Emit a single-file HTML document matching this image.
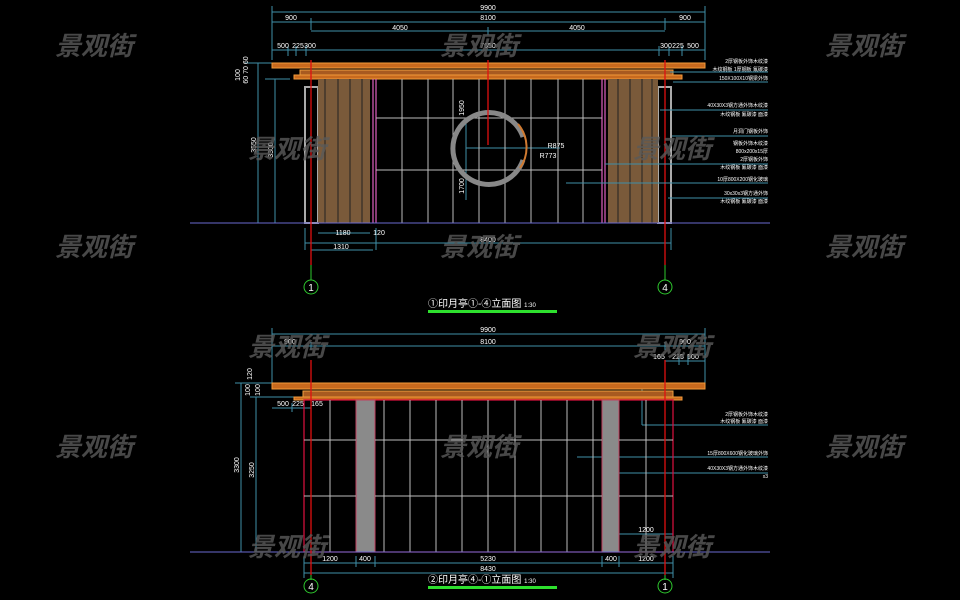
<!DOCTYPE html>
<html><head><meta charset="utf-8"><style>
html,body{margin:0;padding:0;background:#000;width:960px;height:600px;overflow:hidden}
svg{display:block}
.d{stroke:#3f8fa8;stroke-width:1;fill:none}
.t{fill:#fff;font-family:"Liberation Sans",sans-serif;font-size:7px}
.a{fill:#fff;font-family:"Liberation Sans","Noto Sans CJK SC",sans-serif;font-size:5px}
.w{fill:#5a5a5a;font-family:"Noto Sans CJK SC","WenQuanYi Zen Hei",sans-serif;font-size:26px;font-style:italic;font-weight:bold;opacity:.8}
.g{stroke:#bdbdbd;stroke-width:1}
.r{stroke:#e01010;stroke-width:1.3}
</style></head><body>
<svg width="960" height="600" viewBox="0 0 960 600" xmlns="http://www.w3.org/2000/svg">
<!-- ========== TOP ELEVATION ========== -->
<!-- dims -->
<g class="d">
<line x1="272" y1="12" x2="705" y2="12"/><line x1="272" y1="6" x2="272" y2="60"/><line x1="705" y1="6" x2="705" y2="60"/>
<line x1="272" y1="22" x2="705" y2="22"/><line x1="311" y1="18" x2="311" y2="30"/><line x1="665" y1="18" x2="665" y2="30"/>
<line x1="311" y1="31" x2="665" y2="31"/><line x1="488" y1="27" x2="488" y2="35"/>
<line x1="272" y1="50" x2="705" y2="50"/><line x1="288" y1="46" x2="288" y2="56"/><line x1="296" y1="46" x2="296" y2="56"/><line x1="306" y1="46" x2="306" y2="56"/><line x1="659" y1="46" x2="659" y2="56"/><line x1="669" y1="46" x2="669" y2="56"/><line x1="682" y1="46" x2="682" y2="56"/>
<line x1="258" y1="63" x2="258" y2="223"/><line x1="275" y1="79" x2="275" y2="223"/><line x1="245" y1="63" x2="290" y2="63"/><line x1="265" y1="79" x2="290" y2="79"/>
<line x1="305" y1="228" x2="305" y2="250"/><line x1="376" y1="228" x2="376" y2="250"/><line x1="671" y1="228" x2="671" y2="250"/>
<line x1="318" y1="233" x2="370" y2="233"/><line x1="305" y1="243" x2="671" y2="243"/><line x1="311" y1="250" x2="373" y2="250"/>
<line x1="466" y1="118" x2="466" y2="200"/><line x1="466" y1="148" x2="560" y2="148"/>
</g>
<g class="t" text-anchor="middle">
<text x="488" y="10">9900</text><text x="291" y="20">900</text><text x="488" y="20">8100</text><text x="685" y="20">900</text>
<text x="400" y="30">4050</text><text x="577" y="30">4050</text>
<text x="283" y="48">500</text><text x="298" y="48">225</text><text x="310" y="48">300</text><text x="488" y="48">7650</text>
<text x="666" y="48">300</text><text x="678" y="48">225</text><text x="693" y="48">500</text>
<text x="343" y="235">1180</text><text x="379" y="235">120</text><text x="341" y="249">1310</text><text x="488" y="242">8400</text>
<text x="556" y="148">R875</text><text x="548" y="158">R773</text>
</g>
<g class="t" text-anchor="middle">
<text transform="translate(256,145) rotate(-90)">3550</text><text transform="translate(273,150) rotate(-90)">3300</text>
<text transform="translate(240,75) rotate(-90)">100</text><text transform="translate(248,70) rotate(-90)">60 70 60</text>
<text transform="translate(464,108) rotate(-90)">1950</text><text transform="translate(464,186) rotate(-90)">1700</text>
</g>
<!-- roof -->
<rect x="272" y="63" width="433" height="5" fill="#c86a1e" stroke="#f29a3a"/>
<rect x="300" y="70" width="373" height="5" fill="#a85a20" stroke="#f0a040"/>
<rect x="294" y="75" width="388" height="4" fill="#c86a1e" stroke="#f29a3a"/>
<!-- columns -->
<rect x="305" y="87" width="13" height="136" fill="none" stroke="#aaa" stroke-width="2"/>
<rect x="658" y="87" width="13" height="136" fill="none" stroke="#aaa" stroke-width="2"/>
<rect x="318" y="79" width="52" height="144" fill="#7a5a3a"/>
<rect x="608" y="79" width="50" height="144" fill="#7a5a3a"/>
<g stroke="#222" stroke-width="1">
<line x1="325" y1="79" x2="325" y2="223"/><line x1="338" y1="79" x2="338" y2="223"/><line x1="350" y1="79" x2="350" y2="223"/><line x1="362" y1="79" x2="362" y2="223"/>
<line x1="618" y1="79" x2="618" y2="223"/><line x1="630" y1="79" x2="630" y2="223"/><line x1="642" y1="79" x2="642" y2="223"/><line x1="652" y1="79" x2="652" y2="223"/>
</g>
<g stroke="#e060c0" stroke-width="1.2"><line x1="373" y1="79" x2="373" y2="223"/><line x1="376" y1="79" x2="376" y2="223"/><line x1="602" y1="79" x2="602" y2="223"/><line x1="605" y1="79" x2="605" y2="223"/></g>
<!-- grid -->
<g class="g" stroke-width=".8">
<line x1="402" y1="79" x2="402" y2="223"/><line x1="428" y1="79" x2="428" y2="223"/><line x1="453" y1="79" x2="453" y2="223"/><line x1="479" y1="79" x2="479" y2="223"/><line x1="505" y1="79" x2="505" y2="223"/><line x1="531" y1="79" x2="531" y2="223"/><line x1="558" y1="79" x2="558" y2="223"/><line x1="583" y1="79" x2="583" y2="223"/>
<line x1="376" y1="118" x2="602" y2="118"/><line x1="376" y1="170" x2="602" y2="170"/>
</g>
<!-- moon ring -->
<path d="M 523 137 A 36 36 0 1 0 523 160" fill="none" stroke="#888" stroke-width="5"/>
<path d="M 518 124 A 36 36 0 0 1 520 168" fill="none" stroke="#d07a30" stroke-width="2"/>
<!-- ground -->
<line x1="190" y1="223" x2="770" y2="223" stroke="#6a6ad0" stroke-width="1"/>
<!-- axes -->
<line class="r" x1="311" y1="60" x2="311" y2="265"/><line class="r" x1="665" y1="60" x2="665" y2="265"/>
<line class="r" x1="488" y1="60" x2="488" y2="145"/>
<g stroke="#2ec82e" fill="none"><line x1="311" y1="265" x2="311" y2="280"/><line x1="665" y1="265" x2="665" y2="280"/><circle cx="311" cy="287" r="7"/><circle cx="665" cy="287" r="7"/></g>
<g fill="#fff" font-family="Liberation Sans" font-size="10" text-anchor="middle"><text x="311" y="291">1</text><text x="665" y="291">4</text></g>
<text x="428" y="307" fill="#fff" font-family="'Liberation Sans','Noto Sans CJK SC',sans-serif" font-size="10">①印月亭①-④立面图 <tspan font-size="6">1:30</tspan></text>
<rect x="428" y="310" width="129" height="3" fill="#2ee02e"/>
<!-- annotations top -->
<g stroke="#3f8fa8"><line x1="670" y1="72" x2="768" y2="72"/><line x1="673" y1="82" x2="768" y2="82"/><line x1="660" y1="110" x2="768" y2="110"/><line x1="672" y1="136" x2="768" y2="136"/><line x1="605" y1="164" x2="768" y2="164"/><line x1="566" y1="183" x2="768" y2="183"/><line x1="668" y1="198" x2="768" y2="198"/></g>
<g class="a" text-anchor="end">
<text x="768" y="63">2厚钢板外饰木纹漆</text><text x="768" y="71">木纹钢板 1厚钢板 氟碳漆</text><text x="768" y="80">150X100X10钢梁外饰</text>
<text x="768" y="107">40X30X3钢方通外饰木纹漆</text><text x="768" y="116">木纹钢板 氟碳漆 面漆</text>
<text x="768" y="133">月洞门钢板外饰</text><text x="768" y="145">钢板外饰木纹漆</text><text x="768" y="153">800x200x15厚</text><text x="768" y="161">2厚钢板外饰</text><text x="768" y="169">木纹钢板 氟碳漆 面漆</text><text x="768" y="181">10厚800X200钢化玻璃</text>
<text x="768" y="195">30x30x3钢方通外饰</text><text x="768" y="203">木纹钢板 氟碳漆 面漆</text>
</g>
<!-- ========== BOTTOM ELEVATION ========== -->
<g class="d">
<line x1="272" y1="334" x2="705" y2="334"/><line x1="272" y1="328" x2="272" y2="386"/><line x1="705" y1="328" x2="705" y2="386"/>
<line x1="272" y1="346" x2="705" y2="346"/><line x1="311" y1="342" x2="311" y2="350"/><line x1="665" y1="342" x2="665" y2="350"/>
<line x1="665" y1="361" x2="705" y2="361"/><line x1="679" y1="356" x2="679" y2="365"/><line x1="688" y1="356" x2="688" y2="365"/>
<line x1="272" y1="408" x2="311" y2="408"/><line x1="292" y1="403" x2="292" y2="412"/><line x1="304" y1="403" x2="304" y2="412"/>
<line x1="241" y1="383" x2="241" y2="552"/><line x1="256" y1="397" x2="256" y2="552"/><line x1="235" y1="383" x2="275" y2="383"/><line x1="250" y1="397" x2="300" y2="397"/><line x1="235" y1="552" x2="300" y2="552"/>
<line x1="304" y1="563" x2="673" y2="563"/><line x1="304" y1="573" x2="673" y2="573"/>
<line x1="304" y1="556" x2="304" y2="578"/><line x1="356" y1="556" x2="356" y2="567"/><line x1="375" y1="556" x2="375" y2="567"/><line x1="602" y1="556" x2="602" y2="567"/><line x1="619" y1="556" x2="619" y2="567"/><line x1="673" y1="556" x2="673" y2="578"/>
<line x1="619" y1="534" x2="673" y2="534"/><line x1="619" y1="530" x2="619" y2="552"/>
<line x1="642" y1="386" x2="642" y2="425"/><line x1="642" y1="425" x2="768" y2="425"/><line x1="577" y1="457" x2="768" y2="457"/><line x1="604" y1="473" x2="768" y2="473"/>
</g>
<g class="t" text-anchor="middle">
<text x="488" y="332">9900</text><text x="290" y="344">900</text><text x="488" y="344">8100</text><text x="685" y="344">900</text>
<text x="659" y="359">165</text><text x="678" y="359">225</text><text x="693" y="359">500</text>
<text x="283" y="406">500</text><text x="298" y="406">225</text><text x="317" y="406">165</text>
<text x="330" y="561">1200</text><text x="365" y="561">400</text><text x="488" y="561">5230</text><text x="611" y="561">400</text><text x="646" y="561">1200</text><text x="646" y="532">1200</text><text x="488" y="571">8430</text>
<text transform="translate(239,465) rotate(-90)">3300</text><text transform="translate(254,470) rotate(-90)">3250</text>
<text transform="translate(252,374) rotate(-90)">120</text><text transform="translate(250,390) rotate(-90)">100</text><text transform="translate(260,390) rotate(-90)">100</text>
</g>
<rect x="272" y="383" width="433" height="6" fill="#c86a1e" stroke="#f29a3a"/>
<rect x="303" y="391" width="370" height="6" fill="#a85a20" stroke="#f0a040"/>
<rect x="294" y="397" width="388" height="3" fill="#c86a1e" stroke="#f29a3a"/>
<rect x="304" y="400" width="369" height="152" fill="none" stroke="#e01040" stroke-width="1.2"/>
<rect x="356" y="400" width="19" height="152" fill="#8a8a8a" stroke="#c04060"/>
<rect x="602" y="400" width="17" height="152" fill="#8a8a8a" stroke="#c04060"/>
<g class="g" stroke-width=".8">
<line x1="330" y1="400" x2="330" y2="552"/><line x1="384" y1="400" x2="384" y2="552"/><line x1="410" y1="400" x2="410" y2="552"/><line x1="436" y1="400" x2="436" y2="552"/><line x1="462" y1="400" x2="462" y2="552"/><line x1="488" y1="400" x2="488" y2="552"/><line x1="515" y1="400" x2="515" y2="552"/><line x1="541" y1="400" x2="541" y2="552"/><line x1="567" y1="400" x2="567" y2="552"/><line x1="593" y1="400" x2="593" y2="552"/><line x1="646" y1="400" x2="646" y2="552"/>
<line x1="304" y1="440" x2="356" y2="440"/><line x1="375" y1="440" x2="602" y2="440"/><line x1="619" y1="440" x2="673" y2="440"/>
<line x1="304" y1="496" x2="356" y2="496"/><line x1="375" y1="496" x2="602" y2="496"/><line x1="619" y1="496" x2="673" y2="496"/>
</g>
<line x1="190" y1="552" x2="770" y2="552" stroke="#6a6ad0"/>
<line class="r" x1="311" y1="360" x2="311" y2="575"/><line class="r" x1="665" y1="360" x2="665" y2="575"/>
<g stroke="#2ec82e" fill="none"><line x1="311" y1="575" x2="311" y2="580"/><line x1="665" y1="575" x2="665" y2="580"/><circle cx="311" cy="586" r="7"/><circle cx="665" cy="586" r="7"/></g>
<g fill="#fff" font-family="Liberation Sans" font-size="10" text-anchor="middle"><text x="311" y="590">4</text><text x="665" y="590">1</text></g>
<text x="428" y="583" fill="#fff" font-family="'Liberation Sans','Noto Sans CJK SC',sans-serif" font-size="10">②印月亭④-①立面图 <tspan font-size="6">1:30</tspan></text>
<rect x="428" y="586" width="129" height="3" fill="#2ee02e"/>
<g class="a" text-anchor="end">
<text x="768" y="416">2厚钢板外饰木纹漆</text><text x="768" y="423">木纹钢板 氟碳漆 面漆</text>
<text x="768" y="455">15厚800X600钢化玻璃外饰</text><text x="768" y="470">40X30X3钢方通外饰木纹漆</text><text x="768" y="478">x3</text>
</g>
<!-- watermarks -->
<g class="w">
<text x="55" y="55">景观街</text><text x="440" y="55">景观街</text><text x="825" y="55">景观街</text>
<text x="248" y="158">景观街</text><text x="633" y="158">景观街</text>
<text x="55" y="256">景观街</text><text x="440" y="256">景观街</text><text x="825" y="256">景观街</text>
<text x="248" y="356">景观街</text><text x="633" y="356">景观街</text>
<text x="55" y="456">景观街</text><text x="440" y="456">景观街</text><text x="825" y="456">景观街</text>
<text x="248" y="556">景观街</text><text x="633" y="556">景观街</text>
</g>
</svg>
</body></html>
